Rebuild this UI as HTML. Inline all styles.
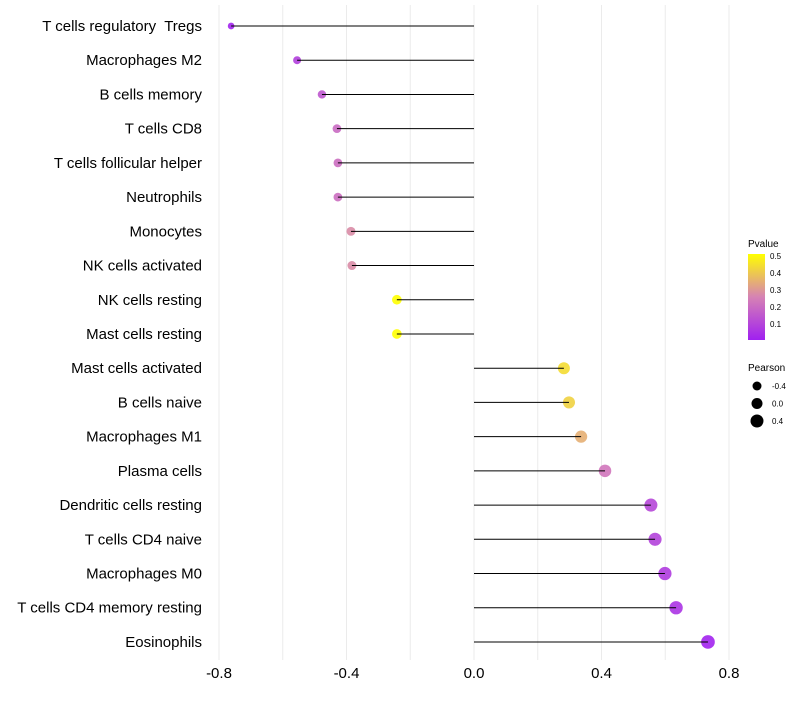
<!DOCTYPE html>
<html><head><meta charset="utf-8"><style>
body{margin:0;background:#fff;font-family:"Liberation Sans",sans-serif}
svg text{font-family:"Liberation Sans",sans-serif;white-space:pre}
</style></head><body>
<svg id="c" width="800" height="700"></svg>
<script>
const categories=["T cells regulatory  Tregs","Macrophages M2","B cells memory","T cells CD8","T cells follicular helper","Neutrophils","Monocytes","NK cells activated","NK cells resting","Mast cells resting","Mast cells activated","B cells naive","Macrophages M1","Plasma cells","Dendritic cells resting","T cells CD4 naive","Macrophages M0","T cells CD4 memory resting","Eosinophils"];
const pearson=[-0.762,-0.555,-0.477,-0.43,-0.427,-0.427,-0.386,-0.383,-0.242,-0.242,0.282,0.298,0.336,0.411,0.555,0.568,0.599,0.634,0.734];
const pvalues=[0.01,0.08,0.14,0.19,0.2,0.2,0.27,0.27,0.5,0.5,0.43,0.41,0.34,0.22,0.1,0.09,0.07,0.05,0.01];
const xTicks=[-0.8,-0.4,0.0,0.4,0.8];
const gridTicks=[-0.8,-0.6,-0.4,-0.2,0,0.2,0.4,0.6,0.8];
const NS="http://www.w3.org/2000/svg";
const svg=document.getElementById('c');
const xs=v=>474+v*318.75;
const ys=i=>26+i*34.22;
const rs=p=>Math.sqrt(Math.max(2.25,29.3+24*p));
function col(p){const t=Math.min(1,Math.max(0,p/0.5));
 const s=[[160,32,240],[214,130,180],[255,255,0]];
 let a,b,u;if(t<0.5){a=s[0];b=s[1];u=t/0.5}else{a=s[1];b=s[2];u=(t-0.5)/0.5}
 return `rgb(${a.map((v,k)=>Math.round(v+(b[k]-v)*u)).join(',')})`;}
function el(tag,at,txt){const e=document.createElementNS(NS,tag);for(const k in at)e.setAttribute(k,at[k]);if(txt!==undefined)e.textContent=txt;svg.appendChild(e);return e;}
gridTicks.forEach(v=>{const g=el('line',{x1:xs(v),x2:xs(v),y1:5,y2:660,stroke:'#ebebeb','stroke-width':1});

});
xTicks.forEach(v=>{const t=el('text',{x:xs(v),y:678,'font-size':15,'text-anchor':'middle',fill:'#000'},v.toFixed(1));

});
categories.forEach((c,i)=>{
 const t=el('text',{x:202,y:ys(i)+5,'font-size':15,'text-anchor':'end',fill:'#000'},c);
 
 
 const d=el('circle',{cx:xs(pearson[i]),cy:ys(i),r:rs(pearson[i]),fill:col(pvalues[i]),'fill-opacity':0.9});
 
 
 const l=el('line',{x1:xs(0),x2:xs(pearson[i]),y1:ys(i),y2:ys(i),stroke:'#000','stroke-width':1});
 
 
});
const defs=el('defs',{});
defs.innerHTML='<linearGradient id="g" x1="0" y1="1" x2="0" y2="0"><stop offset="0" stop-color="rgb(160,32,240)"/><stop offset="0.5" stop-color="rgb(214,130,180)"/><stop offset="1" stop-color="rgb(255,255,0)"/></linearGradient>';
const lt=el('text',{x:748,y:247,'font-size':10},'Pvalue');


const bar=el('rect',{x:748,y:254,width:17,height:86,fill:'url(#g)'});


[0.5,0.4,0.3,0.2,0.1].forEach(v=>{const y=256+(0.5-v)*170;
 const t=el('text',{x:770,y:y+3,'font-size':8},String(v));
 
 });
const pt=el('text',{x:748,y:371,'font-size':10},'Pearson');


[-0.4,0.0,0.4].forEach((v,k)=>{const y=386+k*17.5;
 const c=el('circle',{cx:757,cy:y,r:[4.5,5.5,6.5][k],fill:'#000'});
 
 
 const t=el('text',{x:772,y:y+3,'font-size':8},v.toFixed(1));
 
 });
</script>
</body></html>
